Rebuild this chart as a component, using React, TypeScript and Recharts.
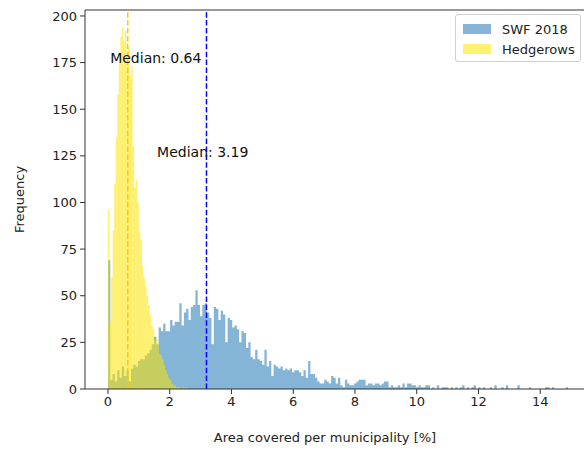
import { ComposedChart, Area, XAxis, YAxis, ReferenceLine, ReferenceDot } from 'recharts';

// histogram counts
const swfCounts = [
  69,
  5, 8, 4, 10, 6, 12, 7, 10, 4, 11, 13, 12, 15, 16, 16, 18, 19, 21, 24, 28,
  24, 33, 31, 35, 31, 31, 37, 34, 36, 36,
  46, 34, 41, 43, 37, 44, 45, 53, 45, 39,
  45, 46, 41, 38, 24, 44, 43, 37, 42, 40,
  25, 38, 37, 33, 34, 32, 25, 31, 30, 22,
  25, 17, 16, 21, 16, 15, 13, 21, 12, 15,
  7, 13, 12, 11, 12, 10, 11, 10, 11, 9,
  10, 10, 9, 7, 10, 6, 15, 8, 8, 6,
  4, 3, 3, 5, 4, 3, 7, 6, 3, 6,
  2, 1, 5, 3, 2, 2, 3, 4, 5, 5,
  5, 2, 3, 3, 2, 3, 3, 2, 3, 4,
  4, 1, 2, 1, 1, 2, 1, 3, 1, 3,
  3, 2, 2, 1, 2, 1, 1, 2, 2, 0,
  1, 0, 2, 0, 1, 1, 1, 0, 1, 0,
  1, 0, 1, 2, 0, 1, 0, 1, 2, 0,
  1, 0, 1, 0, 0, 1, 0, 2, 0, 0,
  1, 0, 2, 0, 0, 0, 0, 2, 0, 0,
  0, 0, 1, 0, 0, 0, 0, 0, 0, 1,
  1, 0, 1, 0, 0, 0, 0, 0, 1,
];

const hedgeCounts = [
  96, 36, 60, 85, 110, 135, 158, 175, 189, 194,
  186, 192, 180, 183, 168, 173, 130, 108, 112, 100,
  84, 80, 66, 60, 55, 50, 45, 40, 34, 32,
  26, 27, 24, 19, 18, 16, 13, 10, 8, 6,
  5, 3, 2, 2, 1, 1, 1, 0, 1, 0, 1,
];

const SWF_BIN = 14.9 / 200;
const HEDGE_BIN = 0.05;

const swfMedian = 3.19;
const hedgeMedian = 0.64;

const seriesNames = ['SWF 2018', 'Hedgerows'];

const xTicks = [0, 2, 4, 6, 8, 10, 12, 14];
const yTicks = [0, 25, 50, 75, 100, 125, 150, 175, 200];

const X_DOMAIN = [-0.745, 15.645];
const Y_MAX = 203.2;

const SWF_COLOR = '#1f77b4';
const HEDGE_COLOR = '#fde400';
const FONT = '"DejaVu Sans", sans-serif';

// step table for both histograms on the union of their bin edges
function countAt(counts: number[], width: number, x: number) {
  const idx = Math.floor(x / width + 1e-9);
  return idx >= 0 && idx < counts.length ? counts[idx] : 0;
}

const edgeSet = new Set<number>();
for (let i = 0; i <= swfCounts.length; i++) edgeSet.add(+(i * SWF_BIN).toFixed(6));
for (let i = 0; i <= hedgeCounts.length; i++) edgeSet.add(+(i * HEDGE_BIN).toFixed(6));
const edges = Array.from(edgeSet).sort((a, b) => a - b);

const data = edges.map((x) => ({
  x,
  swf: countAt(swfCounts, SWF_BIN, x),
  hedge: countAt(hedgeCounts, HEDGE_BIN, x),
}));

const tickStyle = { fontSize: 13, fill: '#222', fontFamily: FONT };
const noteStyle = { fontSize: 14, fill: '#111', fontFamily: FONT };

function HistLegend() {
  const colors = ['rgb(133,180,214)', 'rgb(254,242,115)'];
  return (
    <div
      style={{
        position: 'absolute',
        left: 455,
        top: 14,
        width: 126,
        height: 48,
        border: '1px solid #d0d0d0',
        borderRadius: 3,
        background: 'rgba(255,255,255,0.8)',
        fontFamily: FONT,
        fontSize: 13,
        color: '#222',
        boxSizing: 'border-box',
        paddingTop: 4,
      }}
    >
      {seriesNames.map((name, i) => (
        <div key={name} style={{ display: 'flex', alignItems: 'center', height: 20, paddingLeft: 7 }}>
          <span style={{ display: 'inline-block', width: 28, height: 10, background: colors[i], marginRight: 11 }} />
          <span>{name}</span>
        </div>
      ))}
    </div>
  );
}

export default function App() {
  return (
    <div style={{ position: 'absolute', left: 0, top: 0, width: 584, height: 450, overflow: 'hidden', background: '#fff' }}>
      <ComposedChart width={600} height={450} data={data} margin={{ top: 10, right: 9, left: 0, bottom: 0 }}>
        <XAxis
          dataKey="x"
          type="number"
          domain={X_DOMAIN}
          ticks={xTicks}
          allowDataOverflow
          height={61}
          tick={tickStyle}
          tickSize={5}
          tickMargin={3}
          stroke="#333"
          label={{
            value: 'Area covered per municipality [%]',
            position: 'insideBottom',
            offset: 8,
            dx: -13,
            style: { fontSize: 13, fill: '#222', fontFamily: FONT },
          }}
        />
        <YAxis
          type="number"
          domain={[0, Y_MAX]}
          ticks={yTicks}
          allowDataOverflow
          width={85}
          tick={tickStyle}
          tickSize={5}
          tickMargin={3}
          stroke="#333"
          label={{
            value: 'Frequency',
            angle: -90,
            position: 'insideLeft',
            offset: 19,
            style: { fontSize: 13, fill: '#222', fontFamily: FONT, textAnchor: 'middle' },
          }}
        />
        <Area
          type="stepAfter"
          dataKey="swf"
          name={seriesNames[0]}
          fill={SWF_COLOR}
          fillOpacity={0.55}
          stroke="none"
          isAnimationActive={false}
          dot={false}
          activeDot={false}
        />
        <Area
          type="stepAfter"
          dataKey="hedge"
          name={seriesNames[1]}
          fill={HEDGE_COLOR}
          fillOpacity={0.55}
          stroke="none"
          isAnimationActive={false}
          dot={false}
          activeDot={false}
        />
        <ReferenceLine y={Y_MAX} stroke="#333" strokeWidth={1} />
        <ReferenceLine x={hedgeMedian} stroke="#ffc800" strokeWidth={1.5} strokeDasharray="5.5 2.4" />
        <ReferenceLine x={swfMedian} stroke="#0000ff" strokeWidth={1.5} strokeDasharray="5.5 2.4" />
        <ReferenceDot
          x={0.07}
          y={177.5}
          r={0}
          stroke="none"
          label={{ value: `Median: ${hedgeMedian}`, position: 'right', offset: 0, style: noteStyle }}
        />
        <ReferenceDot
          x={1.59}
          y={127.1}
          r={0}
          stroke="none"
          label={{ value: `Median: ${swfMedian}`, position: 'right', offset: 0, style: noteStyle }}
        />
      </ComposedChart>
      <HistLegend />
    </div>
  );
}
